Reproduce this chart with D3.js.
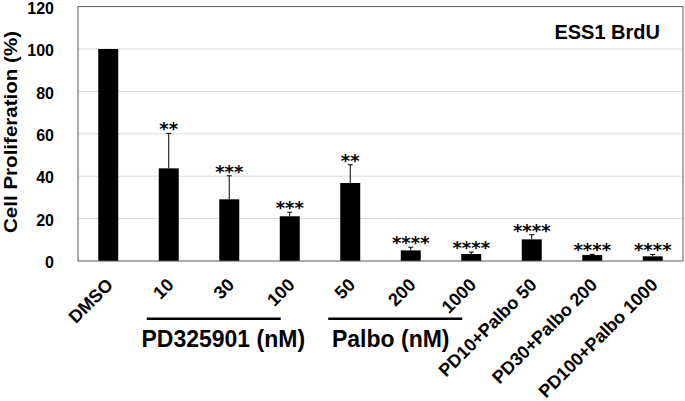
<!DOCTYPE html>
<html><head><meta charset="utf-8">
<script src="https://cdn.jsdelivr.net/npm/d3@7"></script>
<style>body{margin:0;background:#fff}svg{display:block}text{font-family:"Liberation Sans",Arial,sans-serif;font-weight:bold}</style>
</head><body>
<svg id="c" width="685" height="401"></svg>
<script>
const categories = ["DMSO","10","30","100","50","200","1000","PD10+Palbo 50","PD30+Palbo 200","PD100+Palbo 1000"];
const values = [100, 43.7, 29.1, 21.1, 36.8, 5.0, 3.3, 10.2, 2.8, 2.2];
const errors = [0, 16.5, 11.1, 1.9, 8.6, 1.5, 0.9, 2.2, 0.3, 0.9];
const stars = ["", "**", "***", "***", "**", "****", "****", "****", "****", "****"];
const yTicks = [0, 20, 40, 60, 80, 100, 120];
const groups = [{label:"PD325901 (nM)", from:"10", to:"100", tx:-6}, {label:"Palbo (nM)", from:"50", to:"1000", tx:-20}];

const svg = d3.select("#c");
const L = 78, R = 683, T = 6.6, B = 261;
const x = d3.scaleBand().domain(categories).range([L, R]).paddingInner(0.67).paddingOuter(0.335);
const y = d3.scaleLinear().domain([0, 120]).range([B, T]);

// gridlines
svg.append("g").selectAll("line").data(yTicks.filter(d => d > 0 && d < 120)).join("line")
  .attr("x1", L).attr("x2", R).attr("y1", d => y(d)).attr("y2", d => y(d))
  .attr("stroke", "#d9d9d9").attr("stroke-width", 1);

// bars
svg.append("g").selectAll("rect").data(categories).join("rect")
  .attr("x", d => x(d)).attr("width", x.bandwidth())
  .attr("y", (d, i) => y(values[i])).attr("height", (d, i) => B - y(values[i]))
  .attr("fill", "#000");

// error bars
const eg = svg.append("g").attr("stroke", "#000").attr("stroke-width", 1);
categories.forEach((c, i) => {
  if (!errors[i]) return;
  const cx = x(c) + x.bandwidth() / 2;
  eg.append("line").attr("x1", cx).attr("x2", cx).attr("y1", y(values[i])).attr("y2", y(values[i] + errors[i]));
  eg.append("line").attr("x1", cx - 2.5).attr("x2", cx + 2.5).attr("y1", y(values[i] + errors[i])).attr("y2", y(values[i] + errors[i]));
});

// significance stars
svg.append("g").selectAll("text").data(categories).join("text")
  .attr("x", d => x(d) + x.bandwidth() / 2)
  .attr("y", (d, i) => y(values[i] + errors[i]) + 2)
  .attr("text-anchor", "middle").attr("font-size", 18)
  .style("font-family", '"DejaVu Sans",sans-serif').style("font-weight", "bold")
  .text((d, i) => stars[i]);

// frame
svg.append("rect").attr("x", L).attr("y", T).attr("width", R - L).attr("height", B - T)
  .attr("fill", "none").attr("stroke", "#595959").attr("stroke-width", 1);

// y axis labels
const yAxis = d3.axisLeft(y).tickValues(yTicks).tickSize(0).tickPadding(24);
const ya = svg.append("g").attr("transform", `translate(${L},0)`).call(yAxis);
ya.select(".domain").remove();
ya.selectAll("text").attr("font-size", 16).attr("fill", "#000").attr("dy", "0.42em")
  .style("font-family", '"Liberation Sans",Arial,sans-serif').style("font-weight", "bold");

// x labels
const xAxis = d3.axisBottom(x).tickSize(0);
const xa = svg.append("g").attr("transform", `translate(0,${B})`).call(xAxis);
xa.select(".domain").remove();
xa.selectAll("text").attr("font-size", 18).attr("fill", "#000")
  .style("font-family", '"Liberation Sans",Arial,sans-serif').style("font-weight", "bold")
  .attr("text-anchor", "end").attr("dy", 0).attr("y", 0)
  .attr("transform", "translate(6,25) rotate(-45)");

// group lines and labels
groups.forEach(g => {
  const x1 = x(g.from) + x.bandwidth() / 2 - 22;
  const x2 = x(g.to) + x.bandwidth() / 2 - 9;
  svg.append("line").attr("x1", x1).attr("x2", x2).attr("y1", 318.7).attr("y2", 318.7)
    .attr("stroke", "#000").attr("stroke-width", 2.5);
  const mid = categories[categories.indexOf(g.from) + 1];
  svg.append("text").attr("x", x(mid) + x.bandwidth() / 2 + g.tx).attr("y", 347)
    .attr("text-anchor", "middle").attr("font-size", 23).text(g.label);
});

// y title
svg.append("text").attr("transform", "translate(17,132) rotate(-90)")
  .attr("text-anchor", "middle").attr("font-size", 19)
  .attr("textLength", 202).attr("lengthAdjust", "spacingAndGlyphs")
  .text("Cell Proliferation (%)");

// inset title
svg.append("text").attr("x", 660).attr("y", 39).attr("text-anchor", "end")
  .attr("font-size", 20).text("ESS1 BrdU");
</script>
</body></html>
